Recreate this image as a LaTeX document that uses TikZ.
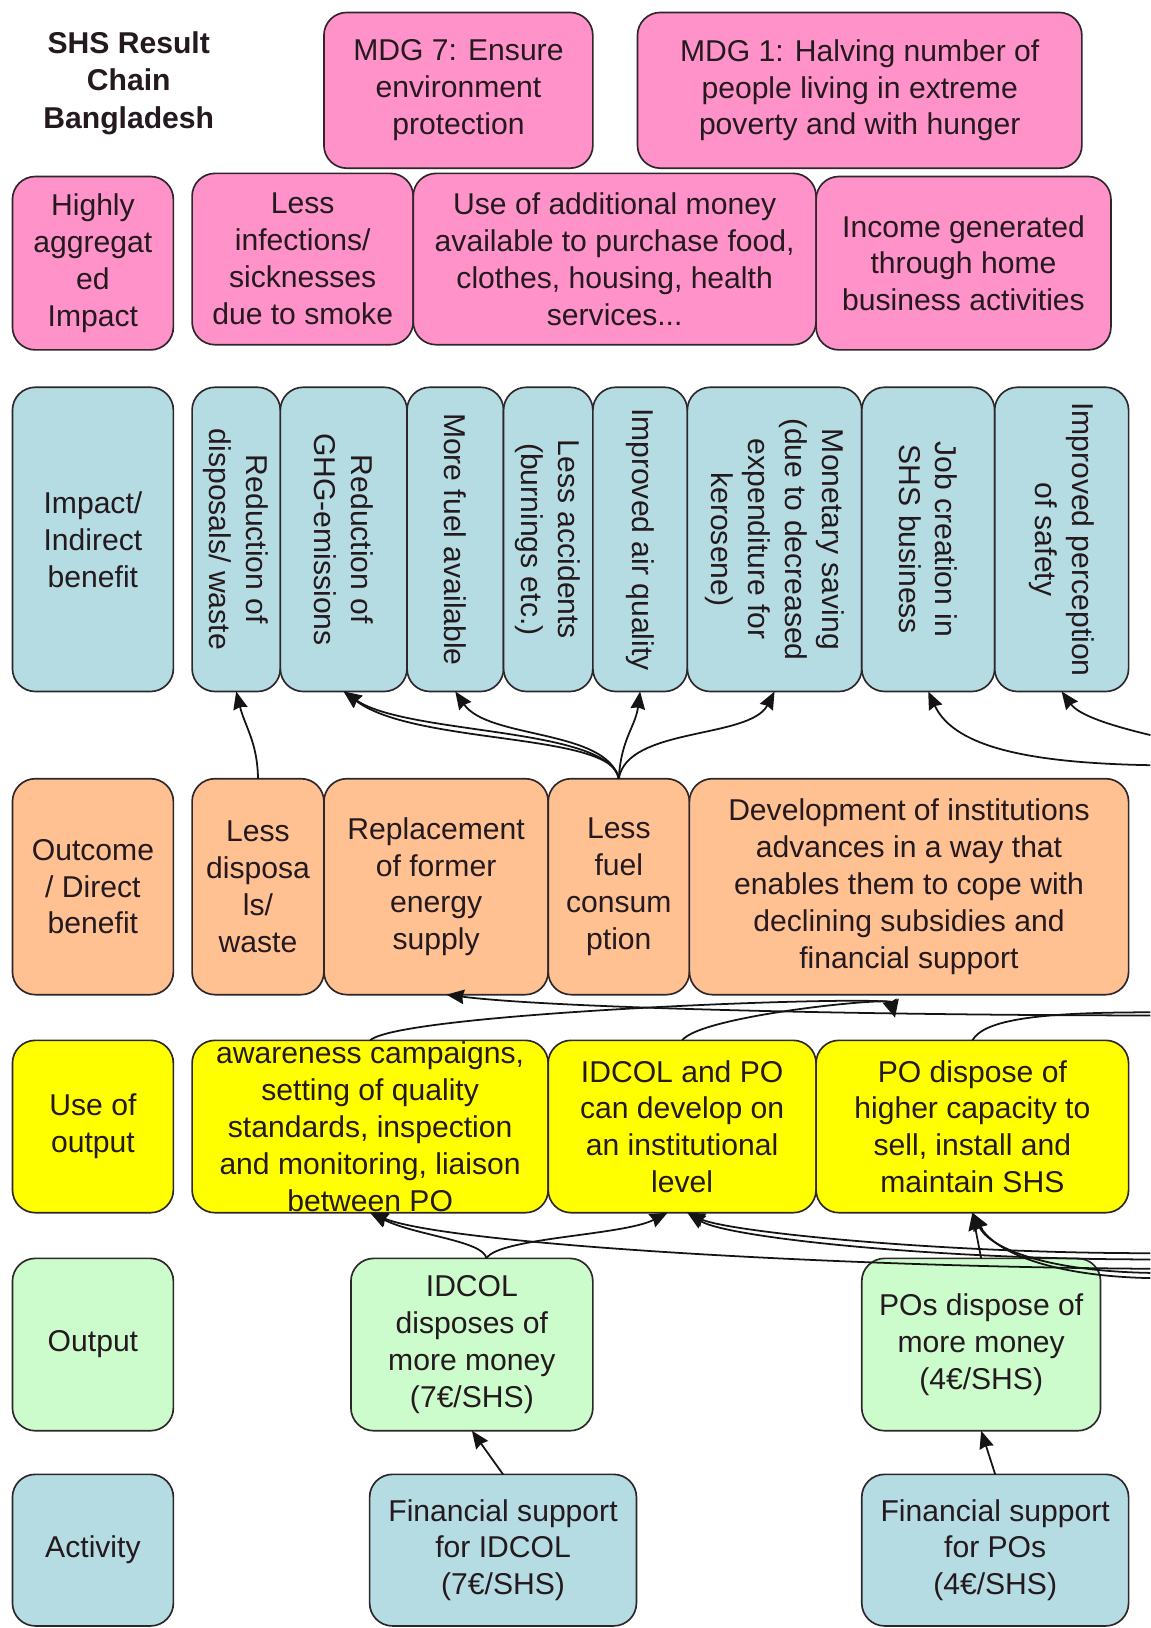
\documentclass[tikz,border=0pt]{standalone}
\usepackage{fontspec}
\setmainfont{Liberation Sans}
\usetikzlibrary{arrows.meta,calc}
\definecolor{pinkc}{RGB}{255,146,200}
\definecolor{bluec}{RGB}{180,220,226}
\definecolor{orangec}{RGB}{255,192,146}
\definecolor{yellowc}{RGB}{255,255,0}
\definecolor{greenc}{RGB}{204,252,204}
\definecolor{edgec}{RGB}{45,38,42}
\definecolor{txtc}{RGB}{35,25,30}
\definecolor{linec}{RGB}{20,20,20}
\newcommand\bodyfs{\fontsize{14.5}{17.75}\selectfont}
\tikzset{
  boxbase/.style={draw=edgec, line width=0.8pt, rounded corners=11pt, inner sep=0pt, outer sep=0pt},
  pinkbox/.style={boxbase, fill=pinkc},
  bluebox/.style={boxbase, fill=bluec},
  orangebox/.style={boxbase, fill=orangec},
  yellowbox/.style={boxbase, fill=yellowc},
  greenbox/.style={boxbase, fill=greenc},
  txt/.style={align=center, inner sep=0pt, text=txtc, font=\bodyfs},
  vtxt/.style={txt, rotate=-90},
  arr/.style={-{Stealth[length=8.5pt,width=7pt,inset=0.8pt]}, line width=0.85pt, draw=linec},
  ln/.style={line width=0.85pt, draw=linec},
}
\newcommand\mkbox[7]{%
  \node[#6, minimum width={(#4-#2)*0.5pt}, minimum height={(#5-#3)*0.5pt}] (#1) at ({(#2+#4)/2},{(#3+#5)/2}) {};
  \node[txt] (#1-t) at (#1.center) {#7};
}
\newcommand\mkvbox[7]{%
  \node[#6, minimum width={(#4-#2)*0.5pt}, minimum height={(#5-#3)*0.5pt}] (#1) at ({(#2+#4)/2},{(#3+#5)/2}) {};
  \node[vtxt] (#1-t) at (#1.center) {#7};
}
\begin{document}
\begin{tikzpicture}[x=0.5pt,y=-0.5pt]
\useasboundingbox (0,0) rectangle (1108,1568);

% title
\node[align=center, inner sep=0pt, text=txtc, font=\fontsize{14.5}{18}\selectfont\bfseries] (title) at (124,80) {SHS Result\\Chain\\Bangladesh};

% MDG row
\mkbox{mdg7}{312}{12}{571}{162}{pinkbox}{MDG 7: Ensure\\environment\\protection}
\mkbox{mdg1}{614}{12}{1042}{162}{pinkbox}{MDG 1: Halving number of\\people living in extreme\\poverty and with hunger}

% highly aggregated impact
\mkbox{highly}{12}{170}{167}{337}{pinkbox}{Highly\\aggregat\\ed\\Impact}
\mkbox{infect}{185}{167}{398}{332}{pinkbox}{Less\\infections/\\sicknesses\\due to smoke}
\mkbox{money}{398}{167}{786}{332}{pinkbox}{Use of additional money\\available to purchase food,\\clothes, housing, health\\services...}
\mkbox{income}{786}{170}{1070}{337}{pinkbox}{Income generated\\through home\\business activities}

% impact / indirect benefit
\mkbox{impact}{12}{373}{167}{666}{bluebox}{Impact/\\Indirect\\benefit}
\mkvbox{r1}{185}{373}{270}{666}{bluebox}{Reduction of\\disposals/ waste}
\mkvbox{r2}{270}{373}{392}{666}{bluebox}{Reduction of\\GHG-emissions}
\mkvbox{r3}{392}{373}{485}{666}{bluebox}{More fuel available}
\mkvbox{r4}{485}{373}{571}{666}{bluebox}{Less accidents\\(burnings etc.)}
\mkvbox{r5}{571}{373}{662}{666}{bluebox}{Improved air quality}
\mkvbox{r6}{662}{373}{830}{666}{bluebox}{Monetary saving\\(due to decreased\\expenditure for\\kerosene)}
\mkvbox{r7}{830}{373}{958}{666}{bluebox}{Job creation in\\SHS business}
\mkvbox{r8}{958}{373}{1087}{666}{bluebox}{Improved perception\\of safety}

% outcome
\mkbox{outcome}{12}{750}{167}{958}{orangebox}{Outcome\\/ Direct\\benefit}
\mkbox{o1}{185}{750}{312}{958}{orangebox}{Less\\disposa\\ls/\\waste}
\mkbox{o2}{312}{750}{528}{958}{orangebox}{Replacement\\of former\\energy\\supply}
\mkbox{o3}{528}{750}{664}{958}{orangebox}{Less\\fuel\\consum\\ption}
\mkbox{o4}{664}{750}{1087}{958}{orangebox}{Development of institutions\\advances in a way that\\enables them to cope with\\declining subsidies and\\financial support}

% use of output
\mkbox{useout}{12}{1002}{167}{1168}{yellowbox}{Use of\\output}
\mkbox{u1}{185}{1002}{528}{1168}{yellowbox}{awareness campaigns,\\setting of quality\\standards, inspection\\and monitoring, liaison\\between PO}
\mkbox{u2}{528}{1002}{786}{1168}{yellowbox}{IDCOL and PO\\can develop on\\an institutional\\level}
\mkbox{u3}{786}{1002}{1087}{1168}{yellowbox}{PO dispose of\\higher capacity to\\sell, install and\\maintain SHS}

% output
\mkbox{output}{12}{1212}{167}{1378}{greenbox}{Output}
\mkbox{p1}{338}{1212}{571}{1378}{greenbox}{IDCOL\\disposes of\\more money\\(7€/SHS)}
\mkbox{p2}{830}{1212}{1060}{1378}{greenbox}{POs dispose of\\more money\\(4€/SHS)}

% activity
\mkbox{activity}{12}{1420}{167}{1566}{bluebox}{Activity}
\mkbox{a1}{356}{1420}{613}{1566}{bluebox}{Financial support\\for IDCOL\\(7€/SHS)}
\mkbox{a2}{830}{1420}{1087}{1566}{bluebox}{Financial support\\for POs\\(4€/SHS)}

% free ends at the right border
\coordinate (ep) at (1108,708);
\coordinate (ej) at (1108,737);
\coordinate (er1) at (1108,978);
\coordinate (er2) at (1108,975);
\coordinate (dv) at (862,980);
\coordinate (er3) at (1108,1222);
\coordinate (er4) at (1108,1207);
\coordinate (er5) at (1108,1213);
\coordinate (er6) at (1108,1226);
\coordinate (er7) at (1108,1231);

% outcome -> impact
\draw[arr] (o1.north) .. controls (248,715) and (236,700) .. (r1.south);
\draw[arr] (o3.north) .. controls (592,705) and (400,718) .. (r2.south);
\draw[arr] (o3.north) .. controls (586,700) and (392,708) .. (r2.south);
\draw[arr] (o3.north) .. controls (584,702) and (470,712) .. (r3.south);
\draw[arr] (o3.north) .. controls (598,712) and (612,700) .. (r5.south);
\draw[arr] (o3.north) .. controls (604,700) and (722,712) .. (r6.south);
\draw[arr] (ej) .. controls (1000,735) and (920,722) .. (r7.south);
\draw[arr] (ep) .. controls (1075,700) and (1040,690) .. (r8.south);

% use of output -> outcome
\draw[arr] (er1) .. controls (880,978) and (540,972) .. ([xshift=5pt]o2.south);
\draw[arr] (u1.north) .. controls (385,975) and (855,958) .. (dv);
\draw[arr] (u2.north) .. controls (675,978) and (858,960) .. (dv);
\draw[ln] (u3.north) .. controls (948,982) and (1000,975) .. (er2);

% output -> use of output
\draw[arr] ([xshift=7pt]p1.north) .. controls (466,1195) and (400,1190) .. (u1.south);
\draw[arr] ([xshift=7pt]p1.north) .. controls (480,1192) and (600,1190) .. ([xshift=-7pt]u2.south);
\draw[arr] (er3) .. controls (800,1220) and (430,1198) .. (u1.south);
\draw[arr] (er4) .. controls (900,1207) and (700,1186) .. ([xshift=2.5pt]u2.south);
\draw[arr] (er5) .. controls (900,1213) and (700,1192) .. ([xshift=2.5pt]u2.south);
\draw[arr] (p2.north) -- (u3.south);
\draw[arr] (er6) .. controls (1000,1224) and (952,1200) .. (u3.south);
\draw[arr] (er7) .. controls (1012,1229) and (958,1206) .. (u3.south);

% activity -> output
\draw[arr] (a1.north) -- (p1.south);
\draw[arr] (a2.north) -- (p2.south);
\end{tikzpicture}
\end{document}
